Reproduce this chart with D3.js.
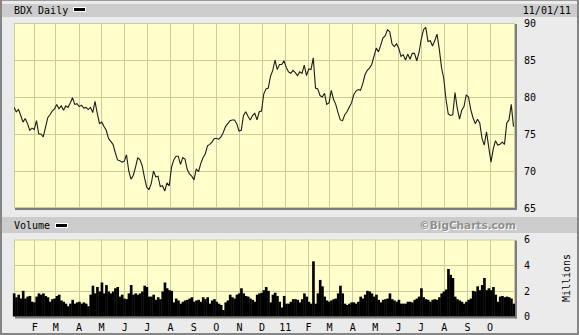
<!DOCTYPE html>
<html><head><meta charset="utf-8">
<script src="https://cdn.jsdelivr.net/npm/d3@7"></script>
<style>html,body{margin:0;padding:0;background:#ebebeb;overflow:hidden}</style>
</head><body>
<script>
// ---- data ----
const symbol = "BDX Daily";
const asOf = "11/01/11";
const startDate = new Date(2010, 0, 5);   // first sample
const stepDays = 3;                        // sample spacing (calendar days)
const priceValues = [
78.6,78.0,78.3,77.5,76.6,77.1,76.4,75.5,75.8,75.6,
76.8,75.0,75.0,74.6,75.9,77.2,77.6,78.1,78.4,79.0,
78.4,78.8,78.2,78.8,78.6,79.2,79.9,79.0,79.1,78.7,
78.9,78.5,78.6,78.3,78.6,77.9,79.4,77.8,76.4,76.6,
76.0,75.5,74.4,74.0,73.6,72.5,71.5,71.4,71.2,71.3,
72.2,70.0,68.9,69.4,70.5,71.8,71.5,70.7,69.1,67.8,
67.5,68.3,70.0,69.2,69.3,67.9,68.0,67.3,68.4,68.0,
70.5,71.5,72.0,72.0,70.9,71.8,71.6,70.2,69.6,69.3,
68.8,70.3,69.9,71.0,71.8,72.3,73.4,73.6,73.9,74.4,
74.4,74.3,74.6,75.2,76.0,76.4,76.8,76.9,76.9,76.4,
75.4,75.5,77.5,78.0,77.4,76.9,77.5,77.8,76.9,78.0,
78.1,80.4,81.1,81.2,82.8,83.6,85.0,83.7,84.4,84.4,
84.9,84.0,83.4,83.2,83.6,83.3,82.9,83.4,83.2,84.3,
82.9,83.8,83.7,85.3,81.2,81.1,80.2,80.0,80.5,79.0,
79.2,80.9,79.7,79.0,77.9,76.9,76.8,77.6,78.0,78.6,
79.2,80.3,80.8,81.0,80.9,81.8,83.0,83.6,83.9,84.4,
85.5,86.6,86.1,87.0,88.0,88.3,89.1,88.8,87.2,86.8,
87.2,86.6,85.5,85.7,85.0,85.8,85.1,85.9,85.9,84.9,
86.0,87.8,89.1,89.4,87.5,87.6,86.9,87.6,88.5,86.5,
84.0,82.5,79.7,77.7,77.5,77.6,80.6,78.5,77.0,78.2,
78.7,80.3,80.0,78.3,77.2,76.4,77.0,76.5,74.4,73.5,
75.3,73.2,71.2,73.0,74.1,73.5,73.6,73.9,73.6,76.5,
76.9,79.0,76.0];
const volumeValues = [ // millions
1.8,1.5,1.7,1.4,2.0,1.4,1.55,1.6,1.15,1.1,
1.55,1.8,1.7,1.8,1.6,1.5,1.15,1.35,1.4,1.6,
1.7,1.25,1.15,1.0,0.8,1.0,1.3,1.0,1.1,1.15,
1.0,1.1,1.0,0.8,1.7,2.4,1.8,2.3,1.95,2.65,
1.8,2.45,1.95,1.8,1.95,2.2,2.3,1.55,1.7,1.4,
1.35,1.8,2.45,1.7,1.8,1.7,1.8,1.95,2.4,2.3,
1.55,1.55,1.7,1.3,1.5,1.35,1.95,2.65,2.2,2.05,
2.0,1.1,1.4,1.25,1.0,1.15,1.25,1.3,1.4,1.5,
1.15,1.25,1.3,1.15,1.5,1.35,1.5,1.0,1.25,1.35,
1.15,1.0,0.9,0.5,1.1,1.25,1.7,1.5,1.4,1.7,
1.8,2.2,1.8,1.6,1.55,1.4,1.3,1.15,1.7,1.8,
1.85,2.05,2.3,2.0,1.1,1.7,1.85,1.6,1.15,0.7,
1.6,1.0,1.0,1.15,1.35,1.35,1.3,1.1,1.35,1.8,
1.55,1.15,1.0,4.3,1.0,1.8,2.85,2.35,1.55,1.25,
1.15,1.25,1.35,1.4,1.8,2.4,1.8,1.0,0.9,1.0,
1.1,1.1,1.0,1.15,1.55,1.4,1.7,2.0,1.95,1.8,
1.55,1.7,1.3,1.1,1.3,1.35,1.4,1.8,1.35,1.25,
1.15,1.3,1.0,1.0,1.0,1.15,1.15,1.1,1.3,1.4,
1.55,2.2,1.5,1.35,1.3,1.15,1.3,1.35,1.3,1.5,
1.8,1.95,2.1,3.7,3.25,3.0,1.55,1.35,1.25,1.15,
1.0,1.15,1.3,1.4,2.0,1.95,2.35,2.05,2.45,3.0,
2.05,2.2,2.05,2.3,1.7,1.15,1.55,1.6,1.5,1.55,
1.5,1.4,1.0];
const monthTicks = [
"2010-02-01","2010-03-01","2010-04-01","2010-05-01","2010-06-01","2010-07-01",
"2010-08-01","2010-09-01","2010-10-01","2010-11-01","2010-12-01","2011-01-01",
"2011-02-01","2011-03-01","2011-04-01","2011-05-01","2011-06-01","2011-07-01",
"2011-08-01","2011-09-01","2011-10-01"];
const monthLabels = ["F","M","A","M","J","J","A","S","O","N","D","11","F","M","A","M","J","J","A","S","O"];
const priceTicks = [65,70,75,80,85,90];
const volumeTicks = [0,2,4,6];

// ---- build ----
const W = 579, H = 335;
const parse = d3.timeParse("%Y-%m-%d");
const tickDates = monthTicks.map(parse);
const dates = priceValues.map((_, i) => d3.timeDay.offset(startDate, i * stepDays));
const data = dates.map((d, i) => ({date: d, price: priceValues[i], vol: volumeValues[i]}));

const L = 14, R = 515;
const pTop = 23, pBot = 208, vTop = 239.5, vBot = 316.5;
const x = d3.scaleTime().domain([new Date(2010,0,5), new Date(2011,10,4)]).range([L, R]);
const yP = d3.scaleLinear().domain([65, 90]).range([pBot, pTop]);
const yV = d3.scaleLinear().domain([0, 6]).range([vBot, vTop]);

const grid = "#cccc99", panel = "#ffffcc", band = "#cccccc", shadow = "#7c7c7c";
const mono = "'DejaVu Sans Mono', monospace";

const svg = d3.select("body").append("svg").attr("width", W).attr("height", H)
  .style("display","block");
svg.append("rect").attr("width", W).attr("height", H).attr("fill", "#ebebeb");

// outer frame
svg.append("rect").attr("x",0).attr("y",0).attr("width",W).attr("height",1).attr("fill","#9a9a9a");
svg.append("rect").attr("x",0).attr("y",0).attr("width",2).attr("height",H).attr("fill","#858585");
svg.append("rect").attr("x",W-2).attr("y",0).attr("width",2).attr("height",H).attr("fill","#858585");
svg.append("rect").attr("x",0).attr("y",H-2).attr("width",W).attr("height",2).attr("fill","#858585");

// title band
svg.append("rect").attr("x",2).attr("y",4).attr("width",W-4).attr("height",13).attr("fill",band);
svg.append("text").attr("x",L).attr("y",14).attr("font-family",mono).attr("font-size",10)
  .attr("fill","#000").text(symbol);
svg.append("rect").attr("x",73.5).attr("y",7.5).attr("width",12).attr("height",4)
  .attr("fill","#000").attr("stroke","#fff").attr("stroke-width",1);
svg.append("text").attr("x",571).attr("y",14).attr("text-anchor","end").attr("font-family",mono)
  .attr("font-size",10).attr("fill","#000").text(asOf);

// volume band
svg.append("rect").attr("x",2).attr("y",217).attr("width",W-4).attr("height",16).attr("fill",band);
svg.append("text").attr("x",L).attr("y",229).attr("font-family",mono).attr("font-size",10)
  .attr("fill","#000").text("Volume");
svg.append("rect").attr("x",55.5).attr("y",223.5).attr("width",12).attr("height",4)
  .attr("fill","#000").attr("stroke","#fff").attr("stroke-width",1);
svg.append("text").attr("x",517).attr("y",230).attr("text-anchor","end")
  .attr("font-family","'DejaVu Sans', Verdana, sans-serif").attr("font-weight","bold")
  .attr("font-size",10.5).attr("fill","#fff").text("\u00A9BigCharts.com");
svg.append("text").attr("x",516).attr("y",229).attr("text-anchor","end")
  .attr("font-family","'DejaVu Sans', Verdana, sans-serif").attr("font-weight","bold")
  .attr("font-size",10.5).attr("fill","#8f8f8f").text("\u00A9BigCharts.com");

function panelFrame(top, bot, yScale, hTicks) {
  const g = svg.append("g");
  // shadow
  g.append("rect").attr("x",L+1).attr("y",bot).attr("width",R-L+1).attr("height",2).attr("fill",shadow);
  g.append("rect").attr("x",R).attr("y",top+1).attr("width",2).attr("height",bot-top+1).attr("fill",shadow);
  g.append("rect").attr("x",L).attr("y",top).attr("width",R-L).attr("height",bot-top).attr("fill",panel);
  g.selectAll("line.v").data(tickDates).join("line")
    .attr("x1", d => Math.round(x(d)) + 0.5).attr("x2", d => Math.round(x(d)) + 0.5)
    .attr("y1", top).attr("y2", bot).attr("stroke", grid).attr("stroke-width", 1);
  g.selectAll("line.h").data(hTicks).join("line")
    .attr("x1", L).attr("x2", R)
    .attr("y1", d => Math.round(yScale(d)) + 0.5).attr("y2", d => Math.round(yScale(d)) + 0.5)
    .attr("stroke", grid).attr("stroke-width", 1);
  g.append("rect").attr("x",L+0.5).attr("y",top+0.5).attr("width",R-L-1).attr("height",bot-top-1)
    .attr("fill","none").attr("stroke",grid);
  return g;
}

// price panel
panelFrame(pTop, pBot, yP, priceTicks.slice(1, -1));
svg.append("clipPath").attr("id","clipP").append("rect")
  .attr("x",L).attr("y",pTop).attr("width",R-L).attr("height",pBot-pTop);
svg.append("path").datum(data).attr("clip-path","url(#clipP)")
  .attr("fill","none").attr("stroke","#1c1c1c").attr("stroke-width",1.1)
  .attr("stroke-linejoin","miter").attr("stroke-miterlimit",2)
  .attr("d", d3.line().x(d => x(d.date)).y(d => yP(d.price)));

// volume panel
panelFrame(vTop, vBot, yV, volumeTicks.slice(1, -1));
const bw = x(d3.timeDay.offset(startDate, stepDays)) - x(startDate);
svg.append("g").selectAll("rect").data(data).join("rect")
  .attr("x", d => x(d.date) - bw / 2).attr("width", bw + 0.4)
  .attr("y", d => yV(d.vol)).attr("height", d => vBot - yV(d.vol))
  .attr("fill", "#000");

// right axes
const axP = svg.append("g").attr("transform", `translate(${R + 9},0)`)
  .call(d3.axisRight(yP).tickValues(priceTicks).tickSize(0).tickPadding(0).tickFormat(d3.format("d")));
const axV = svg.append("g").attr("transform", `translate(${R + 9},0)`)
  .call(d3.axisRight(yV).tickValues(volumeTicks).tickSize(0).tickPadding(0).tickFormat(d3.format("d")));
[axP, axV].forEach(a => {
  a.select(".domain").remove();
  a.selectAll("text").attr("font-family", mono).attr("font-size", 10).attr("fill", "#000");
});
svg.append("text").attr("transform", `translate(570,${(vTop + vBot) / 2}) rotate(-90)`)
  .attr("text-anchor","middle").attr("font-family",mono).attr("font-size",10).attr("fill","#000")
  .text("Millions");

// bottom month axis
const axX = svg.append("g").attr("transform", `translate(0,${vBot + 2})`)
  .call(d3.axisBottom(x).tickValues(tickDates).tickSize(0).tickPadding(5)
    .tickFormat((d, i) => monthLabels[i]));
axX.select(".domain").remove();
axX.selectAll("text").attr("font-family", mono).attr("font-size", 10).attr("fill", "#000");
</script>
</body></html>
